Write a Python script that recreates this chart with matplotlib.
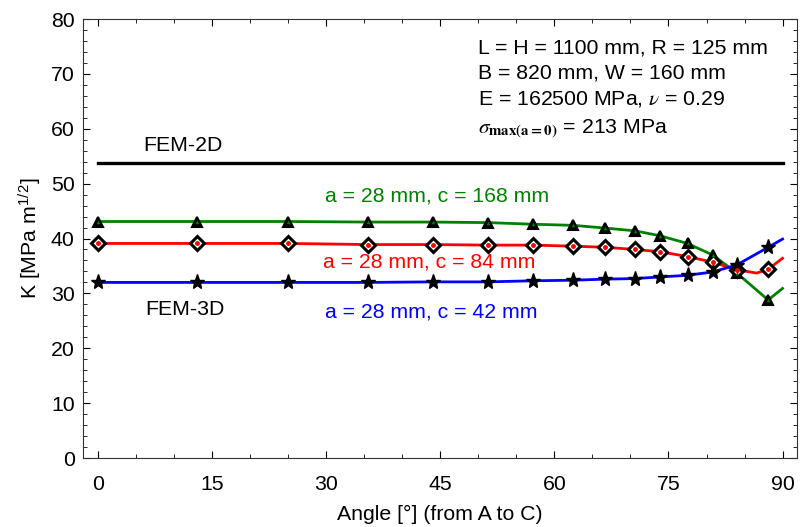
import matplotlib
matplotlib.use("Agg")
import matplotlib.pyplot as plt
from matplotlib.ticker import MultipleLocator

plt.rcParams['font.family'] = ['Liberation Sans', 'DejaVu Sans']
plt.rcParams['mathtext.fontset'] = 'stix'

# Data
angles = [0, 13.0, 25.0, 35.5, 44.0, 51.3, 57.2, 62.5, 66.7, 70.6, 73.9, 77.5, 80.8, 84.0, 88.1]
k_c168 = [43.1, 43.1, 43.1, 43.0, 43.0, 42.9, 42.6, 42.4, 41.9, 41.4, 40.5, 39.1, 37.0, 33.7, 28.8]
k_c84 = [39.1, 39.1, 39.1, 38.9, 38.9, 38.8, 38.8, 38.6, 38.4, 38.0, 37.6, 36.7, 35.7, 34.3, 34.4]
k_c42 = [32.0, 32.0, 32.0, 32.0, 32.1, 32.1, 32.3, 32.4, 32.6, 32.7, 33.0, 33.3, 33.9, 35.2, 38.4]

# line end points / extra line samples
line_c168_x = angles + [90]
line_c168_y = k_c168 + [30.9]
line_c84_x = angles[:-1] + [86.6] + angles[-1:] + [90]
line_c84_y = k_c84[:-1] + [33.7] + k_c84[-1:] + [36.4]
line_c42_x = angles + [90]
line_c42_y = k_c42 + [39.9]

fem2d_x = [0, 90]
fem2d_y = [53.7, 53.7]

fig = plt.figure(figsize=(8, 5.27), dpi=100)
ax = fig.add_axes([0.10375, 0.1309, 0.8925, 0.833])

ax.plot(fem2d_x, fem2d_y, color='black', lw=2.4)
ax.plot(line_c168_x, line_c168_y, color='#008000', lw=2, zorder=2)
ax.plot(line_c84_x, line_c84_y, color='#ff0000', lw=2, zorder=2)
ax.plot(line_c42_x, line_c42_y, color='#0000ff', lw=2, zorder=2)

ax.plot(angles, k_c168, ls='none', marker='^', ms=7.5, mfc='black', mec='black', mew=1.5, zorder=3)
ax.plot(angles, k_c168, ls='none', marker='^', ms=2.5, mfc='#008000', mec='none', zorder=4)
ax.plot(angles, k_c84, ls='none', marker='D', ms=7.5, mfc='white', mec='black', mew=2.2, zorder=3)
ax.plot(angles, k_c84, ls='none', marker='o', ms=2.5, mfc='red', mec='red', zorder=4)
ax.plot(angles, k_c42, ls='none', marker='*', ms=11, mfc='black', mec='black', mew=1, zorder=3)

ax.set_xlim(-2, 91.9)
ax.set_ylim(0, 80)
ax.xaxis.set_major_locator(MultipleLocator(15))
ax.xaxis.set_minor_locator(MultipleLocator(5))
ax.yaxis.set_major_locator(MultipleLocator(10))
ax.yaxis.set_minor_locator(MultipleLocator(2))
ax.tick_params(which='both', direction='in', top=True, right=True, labelsize=15.3)
ax.tick_params(axis='x', which='major', length=5, pad=12)
ax.tick_params(axis='y', which='major', length=5, pad=6)
ax.tick_params(which='minor', length=3)
for s in ax.spines.values():
    s.set_linewidth(0.8)
    s.set_color('#333333')

fs = 15.3
ax.set_xlabel('Angle [°] (from A to C)', fontsize=fs, labelpad=8)
ax.set_ylabel(r'K [MPa m$^{\mathregular{1/2}}$]', fontsize=fs, labelpad=6)

ax.text(5.9, 56.9, 'FEM-2D', fontsize=fs, ha='left', va='center')
ax.text(6.2, 27.0, 'FEM-3D', fontsize=fs, ha='left', va='center')
ax.text(29.8, 47.7, 'a = 28 mm, c = 168 mm', fontsize=fs, color='#008000', ha='left', va='center')
ax.text(29.5, 35.7, 'a = 28 mm, c = 84 mm', fontsize=fs, color='#ff0000', ha='left', va='center')
ax.text(29.8, 26.6, 'a = 28 mm, c = 42 mm', fontsize=fs, color='#0000ff', ha='left', va='center')

ax.text(50.0, 74.7, 'L = H = 1100 mm, R = 125 mm', fontsize=fs, ha='left', va='center')
ax.text(50.0, 70.2, 'B = 820 mm, W = 160 mm', fontsize=fs, ha='left', va='center')
ax.text(50.0, 65.4, r'E = 162500 MPa, $\nu$ = 0.29', fontsize=fs, ha='left', va='center')
ax.text(50.0, 60.1, r'$\sigma_{\mathbf{max(a=0)}}$ = 213 MPa', fontsize=fs, ha='left', va='center')

fig.savefig('out.png', dpi=100)
